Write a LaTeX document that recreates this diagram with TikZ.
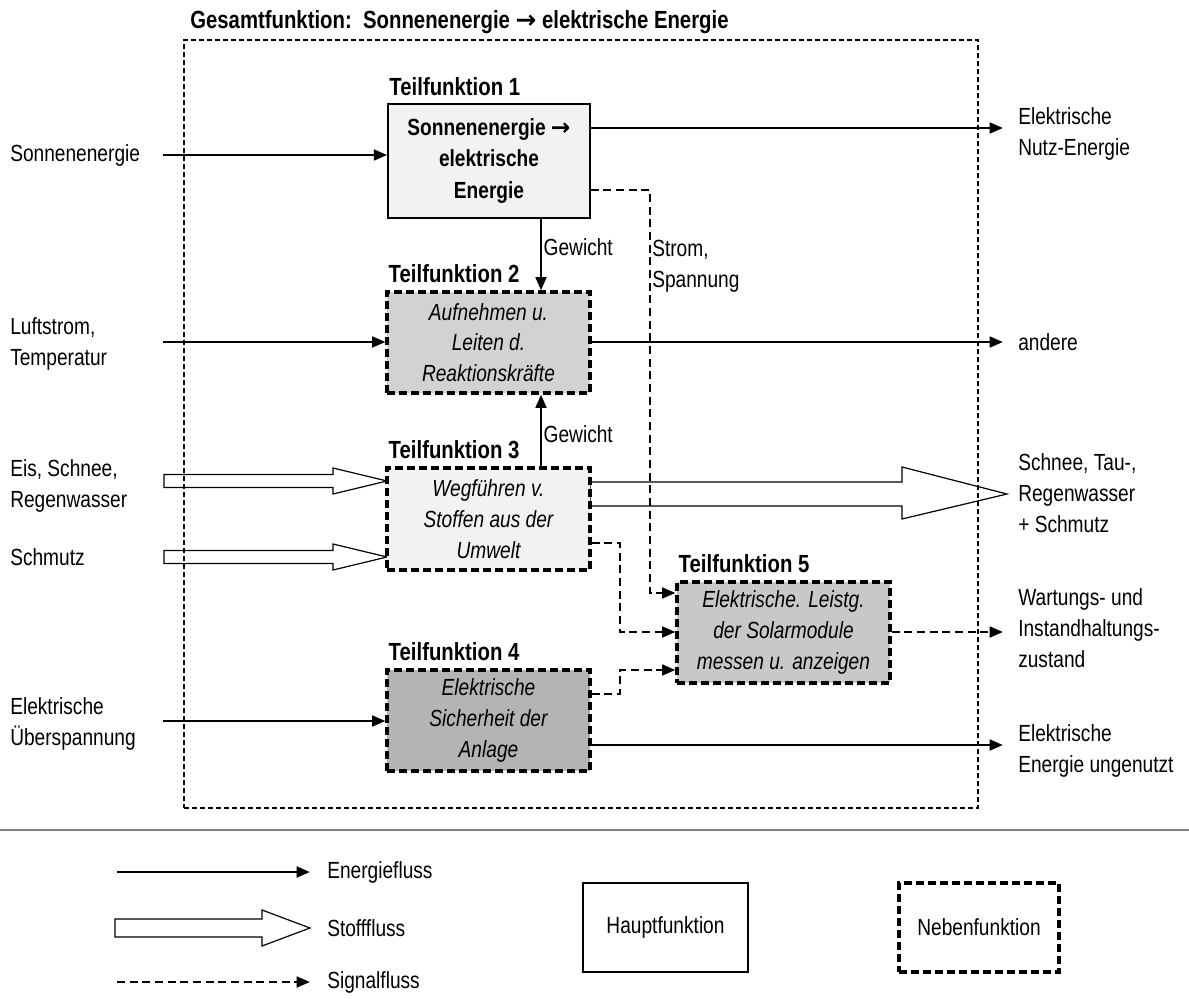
\documentclass[tikz,border=0pt]{standalone}
\usepackage{fontspec}
\setmainfont[FakeStretch=0.82]{Liberation Sans}
\newfontfamily\arrowfont{DejaVu Sans}
\usetikzlibrary{arrows.meta,fit,calc}
\definecolor{fillone}{HTML}{F2F2F2}
\definecolor{filltwo}{HTML}{D2D2D2}
\definecolor{fillfour}{HTML}{B4B4B4}
\definecolor{fillfive}{HTML}{C8C8C8}
\definecolor{sepgray}{HTML}{808080}
\newcommand\fsz{\fontsize{17.5}{23}\selectfont}
\newcommand\fbsz{\fontsize{17.5}{23.5}\selectfont\bfseries}
\newcommand\flsz{\fontsize{18.6}{23}\selectfont\bfseries}
\tikzset{
  txt/.style={font=\fsz, inner sep=0pt, align=left, anchor=west},
  tflabel/.style={font=\flsz, inner sep=0pt, anchor=base west},
  haupt/.style={draw, line width=1.2pt, inner sep=0pt},
  neben/.style={draw, line width=2.3pt, dash pattern=on 6pt off 3pt, inner sep=0pt},
  energy/.style={line width=2pt, -{Triangle[length=10pt,width=8pt]}},
  signal/.style={line width=2pt, dash pattern=on 6pt off 3.5pt, -{Triangle[length=10pt,width=8pt]}},
  stoff/.style={draw, fill=white, line width=0.9pt, line join=miter},
  frame/.style={draw, line width=1.4pt, dash pattern=on 4pt off 2pt},
}
\begin{document}
\begin{tikzpicture}[x=0.75pt,y=-0.75pt]
\useasboundingbox (0,0) rectangle (1189,999);

% Stoff arrows (drawn first)
\draw[stoff] (164,474.5) -- (333,474.5) -- (333,468) -- (387,481) -- (333,494) -- (333,487.5) -- (164,487.5) -- cycle;
\draw[stoff] (164,550.5) -- (333,550.5) -- (333,544) -- (387,557) -- (333,570) -- (333,563.5) -- (164,563.5) -- cycle;
\draw[stoff] (590,482) -- (902,482) -- (902,467) -- (1007,494) -- (902,519) -- (902,506) -- (590,506) -- cycle;

% Title
\node[font=\flsz, inner sep=0pt, anchor=base west] (title) at (190,29) {Gesamtfunktion:\ \ Sonnenenergie {\arrowfont\bfseries →} elektrische Energie};

% Boxes
\node[haupt, fill=fillone, minimum width=151.5pt, minimum height=85.5pt, font=\fbsz, align=center] (tf1) at (489,161) {Sonnenenergie {\arrowfont\bfseries →}\\elektrische\\Energie};
\node[neben, fill=filltwo, minimum width=152.25pt, minimum height=75.75pt, font=\fsz\itshape, align=center] (tf2) at (488.5,342.5) {Aufnehmen u.\\Leiten d.\\Reaktionskräfte};
\node[neben, fill=fillone, minimum width=152.25pt, minimum height=76.5pt, font=\fsz\itshape, align=center] (tf3) at (488.5,519) {Wegführen v.\\Stoffen aus der\\Umwelt};
\node[neben, fill=fillfour, minimum width=152.25pt, minimum height=75.75pt, font=\fsz\itshape, align=center] (tf4) at (488.5,720.5) {Elektrische\\Sicherheit der\\Anlage};
\node[neben, fill=fillfive, minimum width=159.75pt, minimum height=75.75pt, font=\fsz\itshape, align=center] (tf5) at (783.5,632.5) {Elektrische. Leistg.\\der Solarmodule\\messen u. anzeigen};

\node[tflabel] (l1) at ($(tf1.north west)+(2,-8)$) {Teilfunktion 1};
\node[tflabel] (l2) at ($(tf2.north west)+(3,-8)$) {Teilfunktion 2};
\node[tflabel] (l3) at ($(tf3.north west)+(3,-8)$) {Teilfunktion 3};
\node[tflabel] (l4) at ($(tf4.north west)+(3,-8)$) {Teilfunktion 4};
\node[tflabel] (l5) at ($(tf5.north west)+(3,-8)$) {Teilfunktion 5};

% Left texts
\node[txt] (i1) at (10,155) {Sonnenenergie};
\node[txt] (i2) at (10,344) {Luftstrom,\\Temperatur};
\node[txt] (i3) at (10,486) {Eis, Schnee,\\Regenwasser};
\node[txt] (i4) at (10,557) {Schmutz};
\node[txt] (i5) at (10,724) {Elektrische\\Überspannung};

% Right texts
\node[txt] (o1) at (1018,134) {Elektrische\\Nutz-Energie};
\node[txt] (o2) at (1018,342) {andere};
\node[txt] (o3) at (1018,493) {Schnee, Tau-,\\Regenwasser\\+ Schmutz};
\node[txt] (o4) at (1018,628) {Wartungs- und\\Instandhaltungs-\\zustand};
\node[txt] (o5) at (1018,751) {Elektrische\\Energie ungenutzt};

% coordinates
\coordinate (a1) at (163,155);
\coordinate (a2) at (163,342);
\coordinate (a5) at (163,721);
\coordinate (e1) at (1003,128);
\coordinate (e2) at (1003,342);
\coordinate (e4) at (1003,632);
\coordinate (e5) at (1003,745);
\coordinate (s1) at (650,190);
\coordinate (s3) at (620,543);
\coordinate (s4) at (620,694);

% Energy arrows
\draw[energy] (a1) -- (a1 -| tf1.west);
\draw[energy] (a2) -- (a2 -| tf2.west);
\draw[energy] (a5) -- (a5 -| tf4.west);
\draw[energy] (tf1.east |- e1) -- (e1);
\draw[energy] (tf2.east |- e2) -- (e2);
\draw[energy] (tf4.east |- e5) -- (e5);
\draw[energy] (tf1.south -| 541,0) -- (tf2.north -| 541,0) node[pos=0.4, right=1pt, font=\fsz, inner sep=0pt] (g1) {Gewicht};
\draw[energy] (tf3.north -| 541,0) -- (tf2.south -| 541,0) node[pos=0.45, right=1pt, font=\fsz, inner sep=0pt] (g2) {Gewicht};

% Signal arrows
\draw[signal] (tf1.east |- s1) -- (s1) -- (650,593) -- (tf5.west |- 0,593);
\node[txt, anchor=north west] (st) at (652,240) {Strom,\\Spannung};
\draw[signal] (tf3.east |- s3) -- (s3) -- (620,632) -- (tf5.west |- 0,632);
\draw[signal] (tf4.east |- s4) -- (s4) -- (620,670) -- (tf5.west |- 0,670);
\draw[signal] (tf5.east |- e4) -- (e4);

% Outer frame
\node[frame, inner sep=0pt, fit={(184,40)(978,808)}] (gesamt) {};

% separator
\draw[sepgray, line width=1.2pt] (0,830) -- (1189,830);

% Legend
\node[txt] (le1) at (327,872) {Energiefluss};
\node[txt] (le2) at (327,928) {Stofffluss};
\node[txt] (le3) at (327,982) {Signalfluss};
\coordinate (lg1) at (117,872);
\coordinate (lg3) at (117,982);
\draw[energy] (lg1) -- (310,872);
\draw[stoff] (115,919) -- (262,919) -- (262,910) -- (310,928) -- (262,946) -- (262,937) -- (115,937) -- cycle;
\draw[signal] (lg3) -- (310,982);
\node[haupt, minimum width=123.75pt, minimum height=66.75pt, font=\fsz] (lh) at (665.5,927.5) {Hauptfunktion};
\node[neben, minimum width=120pt, minimum height=66.75pt, font=\fsz] (ln) at (979,927.5) {Nebenfunktion};
\end{tikzpicture}
\end{document}
